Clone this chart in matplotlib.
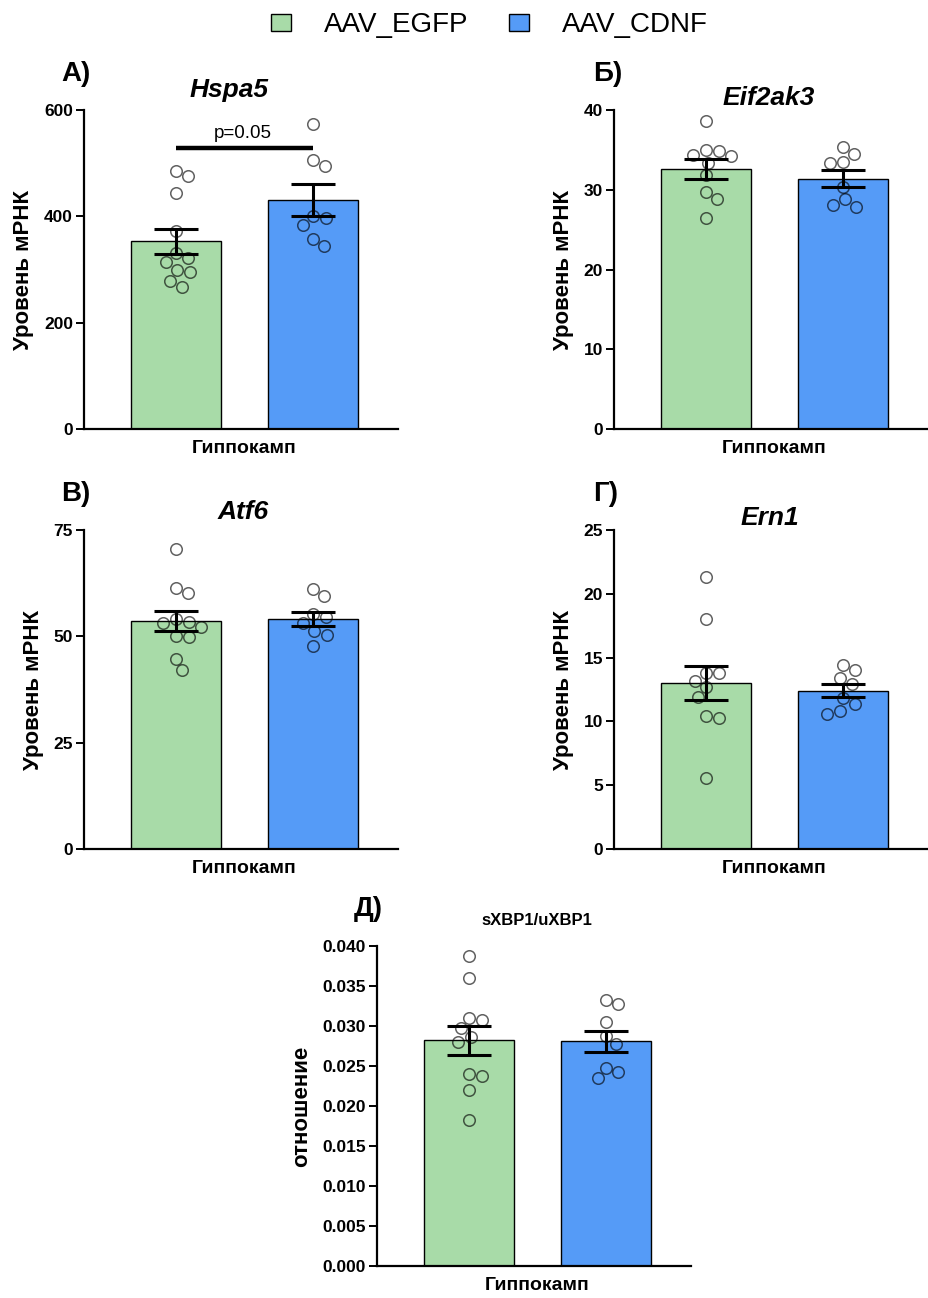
import numpy as np
import matplotlib
matplotlib.use("Agg")
import matplotlib.pyplot as plt
from matplotlib.patches import Patch

plt.rcParams["font.family"] = ["Liberation Sans", "DejaVu Sans"]

# --------------------------------------------------------
# DATA (hippocampus, qPCR)
# --------------------------------------------------------
groups = ["AAV_EGFP", "AAV_CDNF"]
colors = ["#a8dba8", "#559bf7"]

hspa5_egfp = [475, 485, 443, 372, 331, 321, 314, 299, 296, 278, 268]
hspa5_cdnf = [574, 495, 506, 401, 396, 384, 357, 345]
hspa5_mean = [353, 431]
hspa5_sem = [23.5, 29.5]

eif2ak3_egfp = [38.6, 34.2, 35.0, 34.9, 34.4, 33.4, 31.8, 29.7, 28.9, 26.4]
eif2ak3_cdnf = [35.3, 34.5, 33.3, 33.5, 30.4, 28.8, 28.1, 27.8]
eif2ak3_mean = [32.6, 31.4]
eif2ak3_sem = [1.2, 1.05]

atf6_egfp = [70.5, 61.4, 60.2, 53.2, 54.1, 53.4, 52.1, 50.1, 49.8, 44.7, 42.0]
atf6_cdnf = [61.1, 59.5, 54.5, 55.3, 53.1, 51.3, 50.2, 47.8]
atf6_mean = [53.6, 54.1]
atf6_sem = [2.4, 1.6]

ern1_egfp = [21.3, 18.0, 13.8, 13.8, 13.2, 12.7, 11.9, 10.4, 10.3, 5.6]
ern1_cdnf = [14.4, 14.0, 13.4, 12.9, 11.8, 11.4, 10.8, 10.6]
ern1_mean = [13.0, 12.4]
ern1_sem = [1.35, 0.5]

xbp1_egfp = [0.0388, 0.0360, 0.0310, 0.0308, 0.0297, 0.0286, 0.0280,
             0.0240, 0.0238, 0.0220, 0.0183]
xbp1_cdnf = [0.0333, 0.0328, 0.0305, 0.0288, 0.0278, 0.0248, 0.0242, 0.0235]
xbp1_mean = [0.0282, 0.0281]
xbp1_sem = [0.0018, 0.0013]

hspa5_p = "p=0.05"

W, H = 929, 1298
fig = plt.figure(figsize=(W / 100, H / 100), dpi=100)

X_LO, X_HI = -0.67, 1.62
PX_PER_X = 137


def add_ax(left, top, bottom):
    width = (X_HI - X_LO) * PX_PER_X
    return fig.add_axes([left / W, 1 - bottom / H, width / W, (bottom - top) / H])


def swarm_offsets(ax, x0, values, diam=13.0):
    # simple beeswarm in pixel space
    pts = ax.transData.transform(np.column_stack([np.full(len(values), x0), values]))
    order = np.argsort(values)[::-1]
    placed = []
    xs = np.full(len(values), x0, dtype=float)
    steps = np.arange(0, 60, 0.5)
    cands = [0.0] + [s * sgn for s in steps[1:] for sgn in (1, -1)]
    for i in order:
        px, py = pts[i]
        for dx in cands:
            ok = all((px + dx - qx) ** 2 + (py - qy) ** 2 >= diam ** 2 for qx, qy in placed)
            if ok:
                placed.append((px + dx, py))
                xs[i] = ax.transData.inverted().transform((px + dx, py))[0]
                break
    return xs


def draw_panel(ax, egfp, cdnf, mean, sem, ymax, yticks, fmt, title, title_x,
               letter, letter_xy, ylabel, title_size=19, title_style="italic"):
    ax.set_xlim(X_LO, X_HI)
    ax.set_ylim(0, ymax)
    ax.bar([0, 1], mean, width=0.66, color=colors, edgecolor="black",
           linewidth=1.0, zorder=2)
    ax.errorbar([0, 1], mean, yerr=sem, fmt="none", ecolor="black",
                elinewidth=2.2, capsize=16, capthick=2.2, zorder=3)
    for xi, vals in enumerate([egfp, cdnf]):
        xs = swarm_offsets(ax, xi, vals)
        ax.plot(xs, vals, "o", ms=8.3, mfc="none", mec=(0, 0, 0, 0.62),
                mew=1.1, zorder=4, clip_on=False)

    for s in ["top", "right"]:
        ax.spines[s].set_visible(False)
    for s in ["left", "bottom"]:
        ax.spines[s].set_linewidth(1.6)
    ax.set_yticks(yticks)
    ax.set_yticklabels([fmt.format(t) for t in yticks], fontsize=12.5,
                       fontweight="bold")
    ax.tick_params(axis="y", length=6, width=1.4, pad=2)
    ax.set_xticks([0.5])
    ax.set_xticklabels(["Гиппокамп"], fontsize=14, fontweight="bold")
    ax.tick_params(axis="x", length=0, pad=8)
    ax.set_ylabel(ylabel, fontsize=16, fontweight="bold", labelpad=7)

    ax.text(title_x, 1.0, title, transform=ax.get_xaxis_transform(),
            ha="center", va="bottom", fontsize=title_size, fontweight="bold",
            fontstyle=title_style)
    fig.text(letter_xy[0] / W, 1 - letter_xy[1] / H, letter, ha="left",
             va="center", fontsize=20, fontweight="bold")


ax_a = add_ax(84, 110, 429)
draw_panel(ax_a, hspa5_egfp, hspa5_cdnf, hspa5_mean, hspa5_sem, 600,
           [0, 200, 400, 600], "{:.0f}", "Hspa5", 0.39, "А)", (61, 74),
           "Уровень мРНК")
ax_a.texts[0].set_y(1.025)
ax_a.plot([0, 1], [528, 528], color="black", lw=3.2, solid_capstyle="butt")
ax_a.text(0.49, 540, hspa5_p, ha="center", va="bottom", fontsize=13.5)

ax_b = add_ax(614, 110, 429)
draw_panel(ax_b, eif2ak3_egfp, eif2ak3_cdnf, eif2ak3_mean, eif2ak3_sem, 40,
           [0, 10, 20, 30, 40], "{:.0f}", "Eif2ak3", 0.46, "Б)", (593, 74),
           "Уровень мРНК")
ax_b.texts[0].set_y(1.0)

ax_c = add_ax(84, 530, 849)
draw_panel(ax_c, atf6_egfp, atf6_cdnf, atf6_mean, atf6_sem, 75,
           [0, 25, 50, 75], "{:.0f}", "Atf6", 0.49, "В)", (61, 494),
           "Уровень мРНК")
ax_c.texts[0].set_y(1.02)

ax_d = add_ax(614, 530, 849)
draw_panel(ax_d, ern1_egfp, ern1_cdnf, ern1_mean, ern1_sem, 25,
           [0, 5, 10, 15, 20, 25], "{:.0f}", "Ern1", 0.47, "Г)", (593, 494),
           "Уровень мРНК")
ax_d.texts[0].set_y(1.0)

ax_e = add_ax(377, 946, 1266)
draw_panel(ax_e, xbp1_egfp, xbp1_cdnf, xbp1_mean, xbp1_sem, 0.040,
           [0.000, 0.005, 0.010, 0.015, 0.020, 0.025, 0.030, 0.035, 0.040],
           "{:.3f}", "sXBP1/uXBP1", 0.5, "Д)", (354, 909), "отношение",
           title_size=12, title_style="normal")
ax_e.texts[0].set_y(1.055)

handles = [Patch(facecolor=c, edgecolor="black", linewidth=1.0) for c in colors]
fig.legend(handles, groups, loc="center", bbox_to_anchor=(489.5 / W, 1 - 25 / H),
           ncol=2, frameon=False, fontsize=20, handlelength=0.72,
           handleheight=0.58, handletextpad=1.2, columnspacing=1.45)

fig.savefig("out.png", dpi=100)
